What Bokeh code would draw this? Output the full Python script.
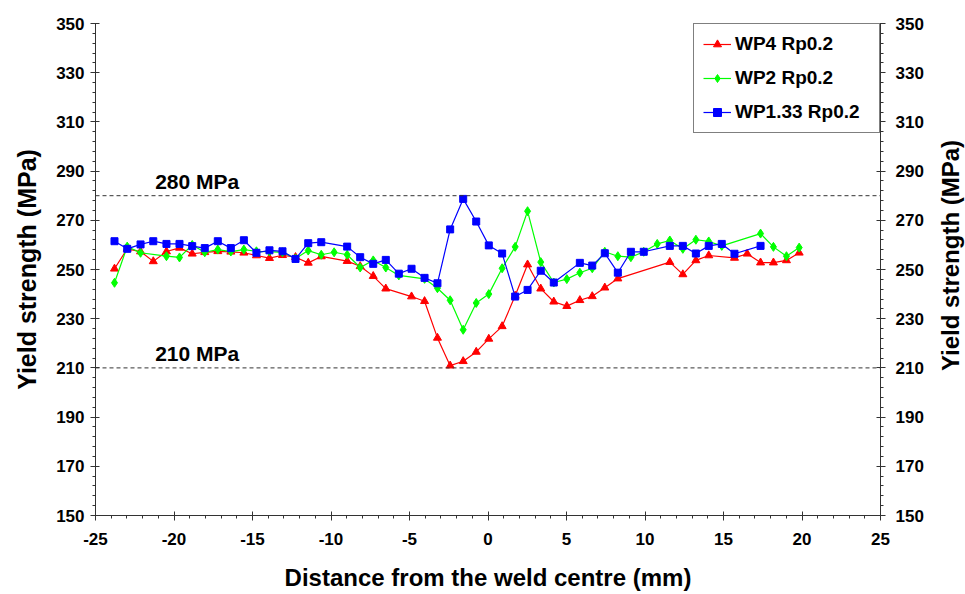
import math
from bokeh.plotting import figure
from bokeh.layouts import row
from bokeh.models import (Range1d, LinearAxis, FixedTicker, Span, Label,
                          Legend, LegendItem, PrintfTickFormatter)
from bokeh.embed import file_html
from bokeh.resources import INLINE

# ---- data ----
x_wp4 = [-23.79, -22.98, -22.13, -21.32, -20.48, -19.65, -18.84, -18.04, -17.21, -16.38,
         -15.55, -14.75, -13.92, -13.09, -12.26, -11.45, -10.62, -8.97, -8.14, -7.31,
         -6.51, -4.87, -4.04, -3.22, -2.41, -1.58, -0.75, 0.05, 0.90, 1.73,
         2.52, 3.36, 4.19, 5.02, 5.85, 6.64, 7.44, 8.27, 11.58, 12.41,
         13.24, 14.06, 15.70, 16.51, 17.36, 18.18, 19.01, 19.82]
y_wp4 = [250.3, 258.4, 257.3, 253.3, 257.3, 258.8, 256.4, 257.0, 257.4, 257.2,
         256.8, 255.7, 254.6, 255.8, 255.0, 252.7, 255.3, 253.4, 251.3, 247.3,
         242.2, 239.0, 237.1, 222.2, 210.9, 212.7, 216.5, 221.8, 226.9, 239.3,
         252.0, 242.2, 236.9, 235.1, 237.5, 239.1, 242.6, 246.3, 253.0, 248.0,
         253.7, 255.7, 254.7, 256.4, 252.8, 252.8, 253.7, 256.8]

x_wp2 = [-23.79, -22.98, -22.13, -20.48, -19.65, -18.84, -18.04, -17.21, -16.38, -15.55,
         -14.75, -13.92, -13.09, -12.26, -11.45, -10.62, -9.80, -8.97, -8.14, -7.31,
         -6.51, -5.68, -4.04, -3.22, -2.41, -1.58, -0.75, 0.05, 0.90, 1.73,
         2.52, 3.36, 4.19, 5.02, 5.85, 6.64, 7.44, 8.27, 9.10, 9.92,
         10.78, 11.58, 12.41, 13.24, 14.06, 14.89, 17.36, 18.18, 19.01, 19.82]
y_wp2 = [244.6, 259.3, 256.8, 255.4, 254.9, 260.0, 257.0, 258.1, 257.3, 258.1,
         257.4, 257.3, 257.0, 254.5, 257.7, 256.0, 257.0, 256.0, 250.8, 253.7,
         250.8, 247.6, 246.2, 242.4, 237.5, 225.5, 236.4, 240.0, 250.5, 259.2,
         273.7, 253.0, 244.7, 246.1, 248.7, 250.5, 257.2, 255.4, 255.0, 257.2,
         260.4, 261.8, 258.4, 262.1, 261.4, 259.6, 264.6, 259.2, 255.4, 258.9]

x_wp133 = [-23.79, -22.98, -22.13, -21.32, -20.48, -19.65, -18.84, -18.04, -17.21, -16.38,
           -15.55, -14.75, -13.92, -13.09, -12.26, -11.45, -10.62, -8.97, -8.14, -7.31,
           -6.51, -5.68, -4.87, -4.04, -3.22, -2.41, -1.58, -0.75, 0.05, 0.90,
           1.73, 2.52, 3.36, 4.19, 5.85, 6.64, 7.44, 8.27, 9.10, 9.92,
           11.58, 12.41, 13.24, 14.06, 14.89, 15.70, 17.36]
y_wp133 = [261.5, 258.4, 260.2, 261.5, 260.4, 260.4, 259.5, 258.7, 261.5, 258.7,
           261.9, 256.8, 257.8, 257.4, 254.3, 260.7, 261.1, 259.3, 255.0, 252.3,
           253.9, 248.3, 250.3, 246.6, 244.4, 266.3, 278.7, 269.5, 259.8, 256.5,
           239.0, 241.7, 249.5, 244.7, 252.7, 251.6, 256.6, 248.7, 257.2, 257.2,
           259.6, 259.6, 256.5, 259.6, 260.4, 256.4, 259.6]

series_labels = ["WP4 Rp0.2", "WP2 Rp0.2", "WP1.33 Rp0.2"]
x_ticks = [-25, -20, -15, -10, -5, 0, 5, 10, 15, 20, 25]
y_ticks = [150, 170, 190, 210, 230, 250, 270, 290, 310, 330, 350]
ref_levels = [280, 210]
ref_texts = ["280 MPa", "210 MPa"]
y_title = "Yield strength (MPa)"
x_title = "Distance from the weld centre (mm)"

FONT = "Liberation Sans"
X_MIN, X_MAX, Y_MIN, Y_MAX = -25, 25, 150, 350
TOP, BOTTOM = 23, 79

p = figure(width=935, height=594, output_backend="svg", toolbar_location=None,
           x_range=Range1d(X_MIN, X_MAX), y_range=Range1d(Y_MIN, Y_MAX),
           min_border_left=95, min_border_right=55, min_border_top=TOP,
           min_border_bottom=BOTTOM)
p.outline_line_color = None
p.xgrid.visible = False
p.ygrid.visible = False
p.background_fill_color = "white"
p.border_fill_color = "white"

right_axis = LinearAxis()
p.add_layout(right_axis, "right")


def style_axis(ax, ticks, minor):
    ax.ticker = FixedTicker(ticks=ticks, minor_ticks=minor)
    ax.formatter = PrintfTickFormatter(format="%d")
    ax.axis_label_text_font = FONT
    ax.axis_label_text_font_style = "bold"
    ax.axis_label_text_color = "black"
    ax.major_label_text_font = FONT
    ax.major_label_text_font_style = "bold"
    ax.major_label_text_font_size = "17px"
    ax.major_label_text_color = "black"
    ax.axis_line_color = "#333333"
    ax.major_tick_line_color = "#333333"
    ax.minor_tick_line_color = "#333333"
    ax.major_tick_in = 4
    ax.major_tick_out = 5
    ax.minor_tick_in = 0
    ax.minor_tick_out = 3


x_minor = list(range(x_ticks[0], x_ticks[-1] + 1, 1))
y_minor = list(range(y_ticks[0], y_ticks[-1] + 1, 4))

style_axis(p.xaxis[0], x_ticks, x_minor)
p.xaxis[0].axis_label = x_title
p.xaxis[0].axis_label_text_font_size = "24px"
p.xaxis[0].major_label_standoff = 12
p.xaxis[0].axis_label_standoff = 16
style_axis(p.yaxis[0], y_ticks, y_minor)
p.yaxis[0].axis_label = y_title
p.yaxis[0].axis_label_text_font_size = "25px"
p.yaxis[0].major_label_standoff = 6
p.yaxis[0].axis_label_standoff = 12
style_axis(right_axis, y_ticks, y_minor)
right_axis.major_label_standoff = 10

label_lift = 5.7  # data units above each reference line
for lvl, txt in zip(ref_levels, ref_texts):
    p.add_layout(Span(location=lvl, dimension="width", line_color="#333333",
                      line_width=1, line_dash="4 3"))
    p.add_layout(Label(x=-21.2, y=lvl + label_lift, text=txt, text_font=FONT,
                       text_font_style="bold", text_font_size="21px",
                       text_color="black", text_baseline="middle"))

items = []
specs = [(x_wp4, y_wp4, "#ff0000", "triangle", 8),
         (x_wp2, y_wp2, "#00ff00", "diamond", 9),
         (x_wp133, y_wp133, "#0000ff", "square", 7)]
for (xs, ys, col, mk, sz), lab in zip(specs, series_labels):
    lr = p.line(xs, ys, line_color=col, line_width=1.2)
    sr = p.scatter(xs, ys, marker=mk, size=sz, fill_color=col, line_color=col)
    items.append(LegendItem(label=lab, renderers=[lr, sr]))

legend = Legend(items=items, location="top_right")
legend.border_line_color = "black"
legend.border_line_width = 1
legend.label_text_font = FONT
legend.label_text_font_style = "bold"
legend.label_text_font_size = "19px"
legend.label_text_color = "black"
legend.glyph_width = 28
legend.glyph_height = 20
legend.label_height = 20
legend.label_width = 135
legend.spacing = 12
legend.padding = 9
legend.margin = 0
legend.label_standoff = 4
legend.background_fill_alpha = 1
p.add_layout(legend)

# strip on the right holding the right-hand axis title (reads bottom-to-top)
side = figure(width=30, height=594, output_backend="svg", toolbar_location=None,
              x_range=Range1d(0, 1), y_range=Range1d(Y_MIN, Y_MAX),
              x_axis_location=None, y_axis_location=None,
              min_border_left=0, min_border_right=0, min_border_top=TOP,
              min_border_bottom=BOTTOM)
side.outline_line_color = None
side.xgrid.visible = False
side.ygrid.visible = False
side.background_fill_color = "white"
side.border_fill_color = "white"
side.add_layout(Label(x=0.5, y=255.7, text=y_title, angle=math.pi / 2,
                      text_font=FONT, text_font_style="bold", text_font_size="24px",
                      text_color="black", text_align="center", text_baseline="middle"))

layout = row(p, side, spacing=0)
open("out.html", "w").write(file_html(layout, INLINE))
